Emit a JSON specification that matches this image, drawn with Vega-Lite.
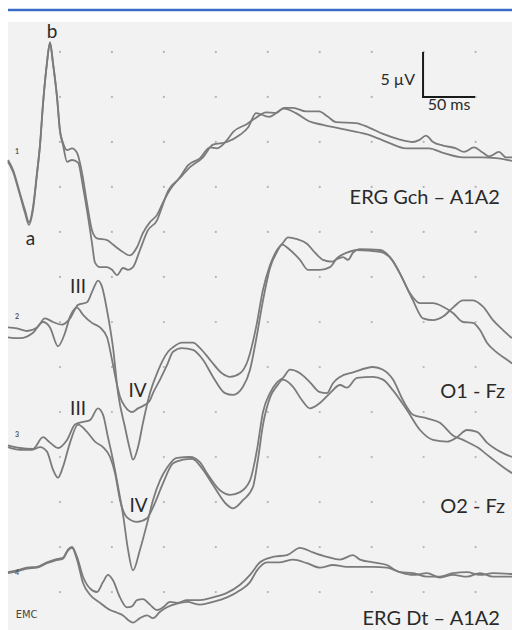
{
"$schema":"https://vega.github.io/schema/vega-lite/v6.json",
"width":504,"height":608,
"autosize":{"type":"none"},
"padding":{"left":8,"top":22,"right":0,"bottom":0},
"background":"#ffffff",
"config":{"view":{"fill":"#f2f2f2","stroke":null},"text":{"font":"Lato","color":"#2a2a2a"}},
"datasets":{
"traces":[
{"s":"1a","t":0,"v":-12.0},{"s":"1a","t":4.8,"v":-13.1},{"s":"1a","t":11.5,"v":-15.7},{"s":"1a","t":16.4,"v":-17.6},{"s":"1a","t":20.2,"v":-18.9},{"s":"1a","t":24.1,"v":-17.2},{"s":"1a","t":27.9,"v":-13.4},{"s":"1a","t":30.8,"v":-10.3},{"s":"1a","t":33.7,"v":-5.7},{"s":"1a","t":37.5,"v":-1.2},{"s":"1a","t":40.4,"v":1.1},{"s":"1a","t":43.3,"v":-1.2},{"s":"1a","t":47.2,"v":-5.0},{"s":"1a","t":50.0,"v":-8.7},{"s":"1a","t":52.9,"v":-10.1},{"s":"1a","t":56.8,"v":-10.9},{"s":"1a","t":61.6,"v":-10.7},{"s":"1a","t":66.4,"v":-11.2},{"s":"1a","t":71.2,"v":-13.4},{"s":"1a","t":76.0,"v":-16.8},{"s":"1a","t":80.8,"v":-19.8},{"s":"1a","t":85.6,"v":-20.7},{"s":"1a","t":95.3,"v":-20.9},{"s":"1a","t":101.0,"v":-21.4},{"s":"1a","t":107.8,"v":-22.0},{"s":"1a","t":117.4,"v":-22.6},{"s":"1a","t":124.1,"v":-21.7},{"s":"1a","t":129.9,"v":-20.1},{"s":"1a","t":136.6,"v":-18.9},{"s":"1a","t":143.4,"v":-18.1},{"s":"1a","t":149.2,"v":-16.7},{"s":"1a","t":155.9,"v":-15.3},{"s":"1a","t":165.5,"v":-13.9},{"s":"1a","t":173.2,"v":-12.6},{"s":"1a","t":184.8,"v":-11.8},{"s":"1a","t":194.4,"v":-10.6},{"s":"1a","t":201.1,"v":-10.7},{"s":"1a","t":210.7,"v":-9.8},{"s":"1a","t":216.5,"v":-8.9},{"s":"1a","t":230.0,"v":-8.0},{"s":"1a","t":238.7,"v":-7.3},{"s":"1a","t":248.3,"v":-6.7},{"s":"1a","t":257.9,"v":-6.8},{"s":"1a","t":265.6,"v":-6.2},{"s":"1a","t":274.3,"v":-6.2},{"s":"1a","t":286.8,"v":-6.6},{"s":"1a","t":299.3,"v":-6.6},{"s":"1a","t":307.9,"v":-7.2},{"s":"1a","t":315.6,"v":-7.8},{"s":"1a","t":334.9,"v":-7.9},{"s":"1a","t":347.4,"v":-8.4},{"s":"1a","t":360.9,"v":-9.1},{"s":"1a","t":376.3,"v":-9.7},{"s":"1a","t":389.7,"v":-10.0},{"s":"1a","t":395.5,"v":-9.8},{"s":"1a","t":402.2,"v":-9.3},{"s":"1a","t":409.0,"v":-10.0},{"s":"1a","t":418.6,"v":-10.4},{"s":"1a","t":431.1,"v":-10.7},{"s":"1a","t":438.8,"v":-11.1},{"s":"1a","t":448.4,"v":-10.6},{"s":"1a","t":457.1,"v":-11.2},{"s":"1a","t":462.9,"v":-11.6},{"s":"1a","t":472.5,"v":-11.1},{"s":"1a","t":479.2,"v":-11.7},{"s":"1a","t":485.0,"v":-11.7},
{"s":"1b","t":0,"v":-12.2},{"s":"1b","t":4.8,"v":-13.3},{"s":"1b","t":11.5,"v":-15.9},{"s":"1b","t":16.4,"v":-17.9},{"s":"1b","t":20.2,"v":-19.2},{"s":"1b","t":24.1,"v":-17.5},{"s":"1b","t":27.9,"v":-13.6},{"s":"1b","t":30.8,"v":-10.4},{"s":"1b","t":33.7,"v":-5.8},{"s":"1b","t":37.5,"v":-1.2},{"s":"1b","t":40.4,"v":1.0},{"s":"1b","t":43.3,"v":-1.3},{"s":"1b","t":47.2,"v":-5.1},{"s":"1b","t":50.0,"v":-8.8},{"s":"1b","t":52.9,"v":-10.3},{"s":"1b","t":56.8,"v":-12.2},{"s":"1b","t":61.6,"v":-12.0},{"s":"1b","t":67.4,"v":-12.3},{"s":"1b","t":72.2,"v":-15.0},{"s":"1b","t":77.0,"v":-18.3},{"s":"1b","t":80.8,"v":-21.2},{"s":"1b","t":83.7,"v":-23.4},{"s":"1b","t":88.5,"v":-23.9},{"s":"1b","t":95.3,"v":-23.9},{"s":"1b","t":100.1,"v":-24.2},{"s":"1b","t":104.9,"v":-24.8},{"s":"1b","t":110.7,"v":-24.0},{"s":"1b","t":115.5,"v":-24.2},{"s":"1b","t":120.3,"v":-23.9},{"s":"1b","t":127.0,"v":-22.0},{"s":"1b","t":134.7,"v":-19.8},{"s":"1b","t":143.4,"v":-18.7},{"s":"1b","t":149.2,"v":-16.9},{"s":"1b","t":153.0,"v":-15.7},{"s":"1b","t":165.5,"v":-14.0},{"s":"1b","t":175.1,"v":-12.8},{"s":"1b","t":187.6,"v":-11.7},{"s":"1b","t":197.3,"v":-10.3},{"s":"1b","t":210.7,"v":-10.0},{"s":"1b","t":223.3,"v":-9.2},{"s":"1b","t":231.0,"v":-8.4},{"s":"1b","t":238.7,"v":-6.8},{"s":"1b","t":251.2,"v":-7.2},{"s":"1b","t":265.6,"v":-6.3},{"s":"1b","t":277.1,"v":-6.8},{"s":"1b","t":289.7,"v":-7.7},{"s":"1b","t":303.1,"v":-8.1},{"s":"1b","t":328.1,"v":-8.7},{"s":"1b","t":347.4,"v":-9.2},{"s":"1b","t":366.6,"v":-10.1},{"s":"1b","t":383.0,"v":-10.7},{"s":"1b","t":405.1,"v":-10.7},{"s":"1b","t":418.6,"v":-11.2},{"s":"1b","t":437.8,"v":-11.7},{"s":"1b","t":457.1,"v":-11.7},{"s":"1b","t":469.6,"v":-11.8},{"s":"1b","t":485.0,"v":-12.1},
{"s":"2c","t":0,"v":-30.6},{"s":"2c","t":8.7,"v":-30.7},{"s":"2c","t":18.3,"v":-31.0},{"s":"2c","t":27.9,"v":-30.6},{"s":"2c","t":35.6,"v":-29.6},{"s":"2c","t":43.3,"v":-30.0},{"s":"2c","t":52.0,"v":-30.3},{"s":"2c","t":59.7,"v":-29.6},{"s":"2c","t":67.4,"v":-28.1},{"s":"2c","t":76.0,"v":-27.8},{"s":"2c","t":81.8,"v":-26.4},{"s":"2c","t":86.6,"v":-25.4},{"s":"2c","t":90.5,"v":-26.1},{"s":"2c","t":95.3,"v":-28.7},{"s":"2c","t":101.0,"v":-32.8},{"s":"2c","t":105.9,"v":-37.9},{"s":"2c","t":112.6,"v":-41.7},{"s":"2c","t":117.4,"v":-44.2},{"s":"2c","t":120.3,"v":-45.3},{"s":"2c","t":125.1,"v":-43.9},{"s":"2c","t":129.9,"v":-41.2},{"s":"2c","t":136.6,"v":-37.9},{"s":"2c","t":143.4,"v":-35.7},{"s":"2c","t":149.2,"v":-34.2},{"s":"2c","t":154.0,"v":-33.3},{"s":"2c","t":158.8,"v":-32.8},{"s":"2c","t":167.4,"v":-32.3},{"s":"2c","t":178.0,"v":-32.3},{"s":"2c","t":184.8,"v":-32.9},{"s":"2c","t":194.4,"v":-34.2},{"s":"2c","t":205.9,"v":-35.7},{"s":"2c","t":213.6,"v":-36.1},{"s":"2c","t":223.3,"v":-35.7},{"s":"2c","t":231.0,"v":-34.2},{"s":"2c","t":238.7,"v":-30.6},{"s":"2c","t":245.4,"v":-26.4},{"s":"2c","t":252.1,"v":-23.7},{"s":"2c","t":258.9,"v":-22.0},{"s":"2c","t":264.6,"v":-21.2},{"s":"2c","t":269.4,"v":-20.6},{"s":"2c","t":278.1,"v":-20.8},{"s":"2c","t":287.7,"v":-21.3},{"s":"2c","t":295.4,"v":-22.3},{"s":"2c","t":303.1,"v":-23.1},{"s":"2c","t":311.8,"v":-23.3},{"s":"2c","t":316.6,"v":-23.0},{"s":"2c","t":322.4,"v":-22.8},{"s":"2c","t":327.2,"v":-23.1},{"s":"2c","t":332.0,"v":-22.3},{"s":"2c","t":338.7,"v":-21.9},{"s":"2c","t":358.0,"v":-22.0},{"s":"2c","t":367.6,"v":-22.8},{"s":"2c","t":377.2,"v":-24.6},{"s":"2c","t":386.8,"v":-26.8},{"s":"2c","t":396.5,"v":-27.9},{"s":"2c","t":409.0,"v":-27.9},{"s":"2c","t":418.6,"v":-28.3},{"s":"2c","t":428.2,"v":-29.0},{"s":"2c","t":437.8,"v":-30.0},{"s":"2c","t":447.5,"v":-30.1},{"s":"2c","t":454.2,"v":-30.9},{"s":"2c","t":460.9,"v":-32.3},{"s":"2c","t":470.6,"v":-33.4},{"s":"2c","t":480.2,"v":-34.2},{"s":"2c","t":485.0,"v":-34.6},
{"s":"2d","t":0,"v":-31.7},{"s":"2d","t":11.5,"v":-31.8},{"s":"2d","t":24.1,"v":-31.2},{"s":"2d","t":33.7,"v":-30.0},{"s":"2d","t":40.4,"v":-30.6},{"s":"2d","t":48.1,"v":-32.7},{"s":"2d","t":54.9,"v":-31.2},{"s":"2d","t":59.7,"v":-29.4},{"s":"2d","t":66.4,"v":-28.4},{"s":"2d","t":72.2,"v":-29.2},{"s":"2d","t":80.8,"v":-30.1},{"s":"2d","t":88.5,"v":-30.6},{"s":"2d","t":95.3,"v":-31.7},{"s":"2d","t":100.1,"v":-34.2},{"s":"2d","t":104.9,"v":-37.0},{"s":"2d","t":107.8,"v":-38.3},{"s":"2d","t":112.6,"v":-39.4},{"s":"2d","t":119.3,"v":-40.0},{"s":"2d","t":125.1,"v":-39.6},{"s":"2d","t":131.8,"v":-39.2},{"s":"2d","t":136.6,"v":-38.7},{"s":"2d","t":139.5,"v":-37.9},{"s":"2d","t":146.3,"v":-36.4},{"s":"2d","t":153.0,"v":-34.8},{"s":"2d","t":158.8,"v":-33.3},{"s":"2d","t":167.4,"v":-32.9},{"s":"2d","t":178.0,"v":-33.1},{"s":"2d","t":187.6,"v":-34.2},{"s":"2d","t":197.3,"v":-36.1},{"s":"2d","t":208.8,"v":-37.9},{"s":"2d","t":216.5,"v":-38.1},{"s":"2d","t":226.1,"v":-37.2},{"s":"2d","t":232.9,"v":-35.3},{"s":"2d","t":238.7,"v":-32.0},{"s":"2d","t":245.4,"v":-27.6},{"s":"2d","t":252.1,"v":-24.0},{"s":"2d","t":258.9,"v":-22.2},{"s":"2d","t":263.7,"v":-21.4},{"s":"2d","t":271.4,"v":-22.0},{"s":"2d","t":281.0,"v":-23.1},{"s":"2d","t":288.7,"v":-24.2},{"s":"2d","t":300.2,"v":-24.2},{"s":"2d","t":309.9,"v":-23.9},{"s":"2d","t":316.6,"v":-22.9},{"s":"2d","t":326.2,"v":-22.3},{"s":"2d","t":335.8,"v":-22.0},{"s":"2d","t":358.0,"v":-22.2},{"s":"2d","t":369.5,"v":-23.1},{"s":"2d","t":380.1,"v":-25.3},{"s":"2d","t":389.7,"v":-27.6},{"s":"2d","t":399.4,"v":-29.6},{"s":"2d","t":409.0,"v":-29.8},{"s":"2d","t":418.6,"v":-29.4},{"s":"2d","t":428.2,"v":-28.4},{"s":"2d","t":437.8,"v":-27.6},{"s":"2d","t":447.5,"v":-27.6},{"s":"2d","t":457.1,"v":-28.3},{"s":"2d","t":466.7,"v":-29.8},{"s":"2d","t":476.3,"v":-30.9},{"s":"2d","t":485.0,"v":-31.8},
{"s":"3g","t":0,"v":-43.7},{"s":"3g","t":11.5,"v":-44.0},{"s":"3g","t":24.1,"v":-44.1},{"s":"3g","t":33.7,"v":-42.8},{"s":"3g","t":40.4,"v":-43.4},{"s":"3g","t":48.1,"v":-44.0},{"s":"3g","t":56.8,"v":-43.1},{"s":"3g","t":64.5,"v":-41.4},{"s":"3g","t":72.2,"v":-41.1},{"s":"3g","t":78.9,"v":-40.9},{"s":"3g","t":86.6,"v":-39.6},{"s":"3g","t":91.4,"v":-40.3},{"s":"3g","t":96.2,"v":-42.8},{"s":"3g","t":101.0,"v":-45.3},{"s":"3g","t":105.9,"v":-48.3},{"s":"3g","t":110.7,"v":-51.4},{"s":"3g","t":115.5,"v":-55.3},{"s":"3g","t":120.3,"v":-57.6},{"s":"3g","t":127.0,"v":-55.3},{"s":"3g","t":134.7,"v":-52.0},{"s":"3g","t":139.5,"v":-49.8},{"s":"3g","t":146.3,"v":-47.6},{"s":"3g","t":153.0,"v":-46.2},{"s":"3g","t":162.6,"v":-45.1},{"s":"3g","t":175.1,"v":-45.0},{"s":"3g","t":184.8,"v":-45.6},{"s":"3g","t":191.5,"v":-46.8},{"s":"3g","t":204.0,"v":-48.7},{"s":"3g","t":213.6,"v":-49.2},{"s":"3g","t":223.3,"v":-48.9},{"s":"3g","t":232.9,"v":-47.6},{"s":"3g","t":239.6,"v":-44.2},{"s":"3g","t":245.4,"v":-40.0},{"s":"3g","t":252.1,"v":-37.9},{"s":"3g","t":258.9,"v":-36.7},{"s":"3g","t":264.6,"v":-36.2},{"s":"3g","t":271.4,"v":-35.3},{"s":"3g","t":281.0,"v":-35.7},{"s":"3g","t":290.6,"v":-36.7},{"s":"3g","t":300.2,"v":-37.8},{"s":"3g","t":307.0,"v":-37.9},{"s":"3g","t":312.7,"v":-36.8},{"s":"3g","t":319.5,"v":-36.1},{"s":"3g","t":332.0,"v":-35.6},{"s":"3g","t":351.2,"v":-35.0},{"s":"3g","t":360.9,"v":-35.3},{"s":"3g","t":370.5,"v":-36.4},{"s":"3g","t":380.1,"v":-38.7},{"s":"3g","t":389.7,"v":-40.3},{"s":"3g","t":403.2,"v":-40.7},{"s":"3g","t":415.7,"v":-41.2},{"s":"3g","t":428.2,"v":-42.6},{"s":"3g","t":437.8,"v":-43.1},{"s":"3g","t":451.3,"v":-43.9},{"s":"3g","t":463.8,"v":-45.0},{"s":"3g","t":476.3,"v":-46.1},{"s":"3g","t":485.0,"v":-46.8},
{"s":"3h","t":0,"v":-43.9},{"s":"3h","t":11.5,"v":-44.2},{"s":"3h","t":23.1,"v":-44.2},{"s":"3h","t":30.8,"v":-43.9},{"s":"3h","t":37.5,"v":-44.4},{"s":"3h","t":43.3,"v":-46.4},{"s":"3h","t":48.1,"v":-47.3},{"s":"3h","t":52.9,"v":-46.1},{"s":"3h","t":59.7,"v":-43.4},{"s":"3h","t":67.4,"v":-41.4},{"s":"3h","t":76.0,"v":-42.2},{"s":"3h","t":83.7,"v":-43.3},{"s":"3h","t":91.4,"v":-43.9},{"s":"3h","t":98.2,"v":-45.0},{"s":"3h","t":103.0,"v":-46.8},{"s":"3h","t":107.8,"v":-49.8},{"s":"3h","t":114.5,"v":-51.7},{"s":"3h","t":124.1,"v":-52.2},{"s":"3h","t":133.8,"v":-51.8},{"s":"3h","t":139.5,"v":-50.6},{"s":"3h","t":149.2,"v":-47.9},{"s":"3h","t":158.8,"v":-45.7},{"s":"3h","t":168.4,"v":-45.3},{"s":"3h","t":177.1,"v":-45.2},{"s":"3h","t":187.6,"v":-46.4},{"s":"3h","t":197.3,"v":-48.1},{"s":"3h","t":210.7,"v":-50.3},{"s":"3h","t":216.5,"v":-50.7},{"s":"3h","t":226.1,"v":-49.8},{"s":"3h","t":235.8,"v":-48.3},{"s":"3h","t":240.5,"v":-45.3},{"s":"3h","t":245.4,"v":-41.4},{"s":"3h","t":252.1,"v":-38.4},{"s":"3h","t":258.9,"v":-37.1},{"s":"3h","t":264.6,"v":-36.4},{"s":"3h","t":274.3,"v":-37.2},{"s":"3h","t":282.9,"v":-38.7},{"s":"3h","t":290.6,"v":-39.6},{"s":"3h","t":300.2,"v":-39.0},{"s":"3h","t":309.9,"v":-37.9},{"s":"3h","t":319.5,"v":-37.0},{"s":"3h","t":326.2,"v":-37.3},{"s":"3h","t":335.8,"v":-36.2},{"s":"3h","t":351.2,"v":-36.1},{"s":"3h","t":360.9,"v":-36.4},{"s":"3h","t":370.5,"v":-37.6},{"s":"3h","t":384.0,"v":-39.8},{"s":"3h","t":396.5,"v":-42.0},{"s":"3h","t":409.0,"v":-43.1},{"s":"3h","t":422.5,"v":-43.3},{"s":"3h","t":432.1,"v":-42.8},{"s":"3h","t":441.7,"v":-42.0},{"s":"3h","t":451.3,"v":-42.2},{"s":"3h","t":460.9,"v":-43.4},{"s":"3h","t":473.5,"v":-44.4},{"s":"3h","t":485.0,"v":-45.0},
{"s":"4k","t":0,"v":-57.8},{"s":"4k","t":8.7,"v":-57.6},{"s":"4k","t":18.3,"v":-57.3},{"s":"4k","t":27.9,"v":-57.2},{"s":"4k","t":37.5,"v":-56.7},{"s":"4k","t":45.2,"v":-56.4},{"s":"4k","t":52.9,"v":-56.2},{"s":"4k","t":57.7,"v":-55.3},{"s":"4k","t":61.6,"v":-55.0},{"s":"4k","t":66.4,"v":-56.1},{"s":"4k","t":72.2,"v":-58.3},{"s":"4k","t":78.9,"v":-59.6},{"s":"4k","t":85.6,"v":-60.0},{"s":"4k","t":91.4,"v":-58.9},{"s":"4k","t":96.2,"v":-58.1},{"s":"4k","t":101.0,"v":-58.7},{"s":"4k","t":107.8,"v":-60.6},{"s":"4k","t":114.5,"v":-61.7},{"s":"4k","t":119.3,"v":-61.6},{"s":"4k","t":124.1,"v":-60.9},{"s":"4k","t":129.9,"v":-60.8},{"s":"4k","t":136.6,"v":-61.4},{"s":"4k","t":143.4,"v":-62.0},{"s":"4k","t":149.2,"v":-61.7},{"s":"4k","t":155.9,"v":-61.1},{"s":"4k","t":162.6,"v":-61.2},{"s":"4k","t":172.3,"v":-60.9},{"s":"4k","t":184.8,"v":-60.9},{"s":"4k","t":197.3,"v":-60.6},{"s":"4k","t":210.7,"v":-60.1},{"s":"4k","t":223.3,"v":-59.2},{"s":"4k","t":232.9,"v":-58.1},{"s":"4k","t":242.5,"v":-56.7},{"s":"4k","t":255.0,"v":-56.1},{"s":"4k","t":268.5,"v":-55.9},{"s":"4k","t":281.0,"v":-55.1},{"s":"4k","t":293.5,"v":-55.6},{"s":"4k","t":307.0,"v":-56.1},{"s":"4k","t":319.5,"v":-56.4},{"s":"4k","t":332.0,"v":-55.9},{"s":"4k","t":338.7,"v":-56.4},{"s":"4k","t":351.2,"v":-56.7},{"s":"4k","t":364.7,"v":-57.0},{"s":"4k","t":377.2,"v":-57.8},{"s":"4k","t":389.7,"v":-57.9},{"s":"4k","t":403.2,"v":-58.3},{"s":"4k","t":415.7,"v":-58.3},{"s":"4k","t":428.2,"v":-57.9},{"s":"4k","t":441.7,"v":-57.8},{"s":"4k","t":454.2,"v":-58.1},{"s":"4k","t":466.7,"v":-57.9},{"s":"4k","t":485.0,"v":-58.0},
{"s":"4l","t":0,"v":-57.9},{"s":"4l","t":8.7,"v":-57.7},{"s":"4l","t":18.3,"v":-57.4},{"s":"4l","t":27.9,"v":-57.3},{"s":"4l","t":37.5,"v":-56.8},{"s":"4l","t":45.2,"v":-56.5},{"s":"4l","t":52.9,"v":-56.3},{"s":"4l","t":57.7,"v":-55.4},{"s":"4l","t":61.6,"v":-55.1},{"s":"4l","t":66.4,"v":-56.4},{"s":"4l","t":72.2,"v":-59.0},{"s":"4l","t":78.9,"v":-60.3},{"s":"4l","t":88.5,"v":-61.2},{"s":"4l","t":98.2,"v":-62.0},{"s":"4l","t":104.9,"v":-62.3},{"s":"4l","t":110.7,"v":-62.6},{"s":"4l","t":115.5,"v":-63.1},{"s":"4l","t":120.3,"v":-63.4},{"s":"4l","t":127.0,"v":-62.9},{"s":"4l","t":133.8,"v":-62.6},{"s":"4l","t":139.5,"v":-62.9},{"s":"4l","t":146.3,"v":-62.2},{"s":"4l","t":153.0,"v":-61.7},{"s":"4l","t":162.6,"v":-61.3},{"s":"4l","t":172.3,"v":-61.1},{"s":"4l","t":184.8,"v":-61.4},{"s":"4l","t":197.3,"v":-61.1},{"s":"4l","t":210.7,"v":-60.6},{"s":"4l","t":223.3,"v":-59.8},{"s":"4l","t":232.9,"v":-58.9},{"s":"4l","t":239.6,"v":-57.6},{"s":"4l","t":249.2,"v":-56.7},{"s":"4l","t":261.7,"v":-56.7},{"s":"4l","t":274.3,"v":-56.4},{"s":"4l","t":287.7,"v":-56.8},{"s":"4l","t":300.2,"v":-57.3},{"s":"4l","t":312.7,"v":-57.0},{"s":"4l","t":326.2,"v":-57.2},{"s":"4l","t":338.7,"v":-57.2},{"s":"4l","t":351.2,"v":-57.2},{"s":"4l","t":364.7,"v":-57.3},{"s":"4l","t":377.2,"v":-57.8},{"s":"4l","t":389.7,"v":-58.1},{"s":"4l","t":403.2,"v":-57.9},{"s":"4l","t":415.7,"v":-58.4},{"s":"4l","t":428.2,"v":-58.1},{"s":"4l","t":441.7,"v":-58.3},{"s":"4l","t":454.2,"v":-57.9},{"s":"4l","t":466.7,"v":-58.3},{"s":"4l","t":485.0,"v":-58.3}
],
"grid":[
{"t":50,"v":0},{"t":100,"v":0},{"t":150,"v":0},{"t":200,"v":0},{"t":250,"v":0},{"t":300,"v":0},{"t":350,"v":0},{"t":400,"v":0},{"t":450,"v":0},
{"t":50,"v":-5},{"t":100,"v":-5},{"t":150,"v":-5},{"t":200,"v":-5},{"t":250,"v":-5},{"t":300,"v":-5},{"t":350,"v":-5},{"t":400,"v":-5},{"t":450,"v":-5},
{"t":50,"v":-10},{"t":100,"v":-10},{"t":150,"v":-10},{"t":200,"v":-10},{"t":250,"v":-10},{"t":300,"v":-10},{"t":350,"v":-10},{"t":400,"v":-10},{"t":450,"v":-10},
{"t":50,"v":-15},{"t":100,"v":-15},{"t":150,"v":-15},{"t":200,"v":-15},{"t":250,"v":-15},{"t":300,"v":-15},{"t":350,"v":-15},{"t":400,"v":-15},{"t":450,"v":-15},
{"t":50,"v":-20},{"t":100,"v":-20},{"t":150,"v":-20},{"t":200,"v":-20},{"t":250,"v":-20},{"t":300,"v":-20},{"t":350,"v":-20},{"t":400,"v":-20},{"t":450,"v":-20},
{"t":50,"v":-25},{"t":100,"v":-25},{"t":150,"v":-25},{"t":200,"v":-25},{"t":250,"v":-25},{"t":300,"v":-25},{"t":350,"v":-25},{"t":400,"v":-25},{"t":450,"v":-25},
{"t":50,"v":-30},{"t":100,"v":-30},{"t":150,"v":-30},{"t":200,"v":-30},{"t":250,"v":-30},{"t":300,"v":-30},{"t":350,"v":-30},{"t":400,"v":-30},{"t":450,"v":-30},
{"t":50,"v":-35},{"t":100,"v":-35},{"t":150,"v":-35},{"t":200,"v":-35},{"t":250,"v":-35},{"t":300,"v":-35},{"t":350,"v":-35},{"t":400,"v":-35},{"t":450,"v":-35},
{"t":50,"v":-40},{"t":100,"v":-40},{"t":150,"v":-40},{"t":200,"v":-40},{"t":250,"v":-40},{"t":300,"v":-40},{"t":350,"v":-40},{"t":400,"v":-40},{"t":450,"v":-40},
{"t":50,"v":-45},{"t":100,"v":-45},{"t":150,"v":-45},{"t":200,"v":-45},{"t":250,"v":-45},{"t":300,"v":-45},{"t":350,"v":-45},{"t":400,"v":-45},{"t":450,"v":-45},
{"t":50,"v":-50},{"t":100,"v":-50},{"t":150,"v":-50},{"t":200,"v":-50},{"t":250,"v":-50},{"t":300,"v":-50},{"t":350,"v":-50},{"t":400,"v":-50},{"t":450,"v":-50},
{"t":50,"v":-55},{"t":100,"v":-55},{"t":150,"v":-55},{"t":200,"v":-55},{"t":250,"v":-55},{"t":300,"v":-55},{"t":350,"v":-55},{"t":400,"v":-55},{"t":450,"v":-55},
{"t":50,"v":-60},{"t":100,"v":-60},{"t":150,"v":-60},{"t":200,"v":-60},{"t":250,"v":-60},{"t":300,"v":-60},{"t":350,"v":-60},{"t":400,"v":-60},{"t":450,"v":-60}
],
"labels":[
{"g":"pk","txt":"b","t":42.3,"v":1.6},{"g":"pk","txt":"a","t":21.7,"v":-21.4},{"g":"pk","txt":"III","t":67.4,"v":-26.8},{"g":"pk","txt":"IV","t":124.6,"v":-38.3},{"g":"pk","txt":"III","t":67.4,"v":-40.3},{"g":"pk","txt":"IV","t":125.6,"v":-51.1},
{"g":"ch","txt":"ERG Gch – A1A2","t":473.4,"v":-16.9},{"g":"ch","txt":"O1 - Fz","t":478.3,"v":-38.4},{"g":"ch","txt":"O2 - Fz","t":478.3,"v":-51.2},{"g":"ch","txt":"ERG Dt – A1A2","t":473.4,"v":-63.7},
{"g":"sv","txt":"5 µV","t":391.7,"v":-3.7},{"g":"sm","txt":"50 ms","t":424.4,"v":-6.4},
{"g":"n","txt":"1","t":8.7,"v":-11.1},{"g":"n","txt":"2","t":8.7,"v":-29.4},{"g":"n","txt":"3","t":8.7,"v":-42.6},{"g":"n","txt":"4","t":8.7,"v":-57.9},
{"g":"e","txt":"EMC","t":17.8,"v":-62.6}
]
},
"layer":[
{"data":{"name":"grid"},"mark":{"type":"point","filled":true,"size":5,"color":"#b3b3b3","opacity":1},
 "encoding":{"x":{"field":"t","type":"quantitative","scale":{"domain":[0,485],"nice":false,"zero":false},"axis":null},
 "y":{"field":"v","type":"quantitative","scale":{"domain":[-64.22,3.33],"nice":false,"zero":false},"axis":null}}},
{"data":{"name":"traces"},"mark":{"type":"line","color":"#7b7b7b","strokeWidth":1.8,"interpolate":"monotone"},
 "encoding":{"x":{"field":"t","type":"quantitative","scale":{"domain":[0,485],"nice":false,"zero":false},"axis":null},
 "y":{"field":"v","type":"quantitative","scale":{"domain":[-64.22,3.33],"nice":false,"zero":false},"axis":null},
 "detail":{"field":"s","type":"nominal"}}},
{"data":{"values":[{}]},"mark":{"type":"rule","color":"#3b6cc5","strokeWidth":2.5},
 "encoding":{"x":{"datum":0,"type":"quantitative"},"x2":{"datum":485},"y":{"datum":4.67,"type":"quantitative"}}},
{"data":{"values":[{}]},"mark":{"type":"rule","color":"#1a1a1a","strokeWidth":2},
 "encoding":{"x":{"datum":399.4,"type":"quantitative"},"y":{"datum":0,"type":"quantitative"},"y2":{"datum":-5}}},
{"data":{"values":[{}]},"mark":{"type":"rule","color":"#1a1a1a","strokeWidth":2},
 "encoding":{"x":{"datum":398.4,"type":"quantitative"},"x2":{"datum":449.4},"y":{"datum":-5,"type":"quantitative"}}},
{"data":{"name":"labels"},"transform":[{"filter":{"field":"g","equal":"pk"}}],
 "mark":{"type":"text","fontSize":19,"align":"center","baseline":"alphabetic","color":"#2a2a2a"},
 "encoding":{"x":{"field":"t","type":"quantitative"},"y":{"field":"v","type":"quantitative"},"text":{"field":"txt"}}},
{"data":{"name":"labels"},"transform":[{"filter":{"field":"g","equal":"ch"}}],
 "mark":{"type":"text","fontSize":20,"align":"right","baseline":"alphabetic","color":"#2a2a2a"},
 "encoding":{"x":{"field":"t","type":"quantitative"},"y":{"field":"v","type":"quantitative"},"text":{"field":"txt"}}},
{"data":{"name":"labels"},"transform":[{"filter":{"field":"g","equal":"sv"}}],
 "mark":{"type":"text","fontSize":16,"align":"right","baseline":"alphabetic","color":"#2a2a2a"},
 "encoding":{"x":{"field":"t","type":"quantitative"},"y":{"field":"v","type":"quantitative"},"text":{"field":"txt"}}},
{"data":{"name":"labels"},"transform":[{"filter":{"field":"g","equal":"sm"}}],
 "mark":{"type":"text","fontSize":16,"align":"center","baseline":"alphabetic","color":"#2a2a2a"},
 "encoding":{"x":{"field":"t","type":"quantitative"},"y":{"field":"v","type":"quantitative"},"text":{"field":"txt"}}},
{"data":{"name":"labels"},"transform":[{"filter":{"field":"g","equal":"n"}}],
 "mark":{"type":"text","fontSize":7,"fontWeight":"bold","align":"center","baseline":"middle","color":"#555555"},
 "encoding":{"x":{"field":"t","type":"quantitative"},"y":{"field":"v","type":"quantitative"},"text":{"field":"txt"}}},
{"data":{"name":"labels"},"transform":[{"filter":{"field":"g","equal":"e"}}],
 "mark":{"type":"text","fontSize":11,"font":"DejaVu Sans Condensed, Liberation Sans Narrow, DejaVu Sans","align":"center","baseline":"middle","color":"#444444"},
 "encoding":{"x":{"field":"t","type":"quantitative"},"y":{"field":"v","type":"quantitative"},"text":{"field":"txt"}}}
]
}
